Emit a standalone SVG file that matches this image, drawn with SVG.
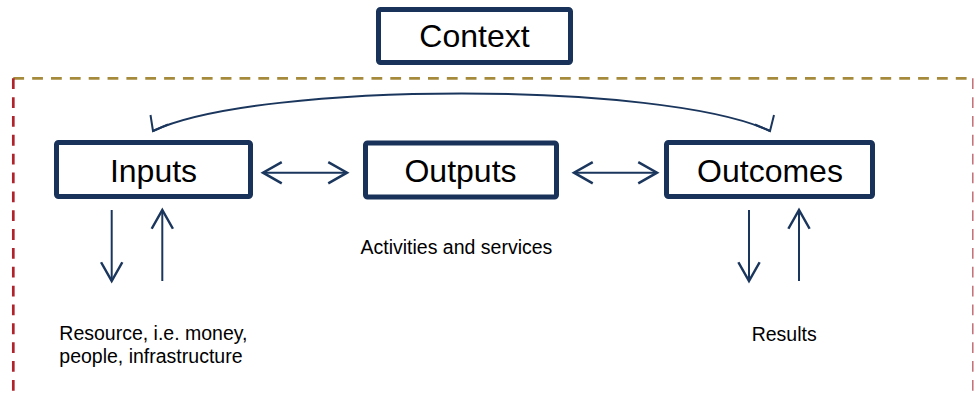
<svg xmlns="http://www.w3.org/2000/svg" width="974" height="393" viewBox="0 0 974 393">
<defs>
<style>
.box{fill:#fff;stroke:#18325A;stroke-width:5}
.big{font-family:"Liberation Sans",Arial,sans-serif;font-size:32px;fill:#000;text-anchor:middle}
.small{font-family:"Liberation Sans",Arial,sans-serif;font-size:19.5px;fill:#000}
.conn{fill:none;stroke:#1B365D;stroke-width:2}
</style>
<marker id="arr" markerUnits="userSpaceOnUse" markerWidth="30" markerHeight="30" viewBox="-20 -12 24 24" refX="0" refY="0" orient="auto-start-reverse">
<path d="M-15,-8.5 L0,0 L-15,8.5" fill="none" stroke="#1B365D" stroke-width="2"/>
</marker>
</defs>
<rect width="974" height="393" fill="#fff"/>
<g id="boundary">
<line x1="13.3" y1="78.3" x2="973" y2="78.3" stroke="#A68A3C" stroke-width="2.7" stroke-dasharray="10.8 8.05"/>
<line x1="13.3" y1="78.3" x2="13.3" y2="393" stroke="#B0232B" stroke-width="2.7" stroke-dasharray="10.8 8.05"/>
<line x1="972.8" y1="78.3" x2="972.8" y2="393" stroke="#C0646E" stroke-width="1.4" stroke-dasharray="10.8 8.05"/>
</g>
<g id="context">
<rect class="box" x="378.5" y="9.5" width="192" height="53" rx="2"/>
<text class="big" x="474.5" y="47">Context</text>
</g>
<g id="inputs">
<rect class="box" x="56.5" y="142.5" width="194" height="54" rx="2"/>
<text class="big" x="153.5" y="181.5">Inputs</text>
</g>
<g id="outputs">
<rect class="box" x="365.5" y="143" width="191" height="54" rx="2"/>
<text class="big" x="460.5" y="182">Outputs</text>
</g>
<g id="outcomes">
<rect class="box" x="666.5" y="142.5" width="206" height="54" rx="2"/>
<text class="big" x="770" y="181.5">Outcomes</text>
</g>
<g id="labels">
<text class="small" x="360.5" y="254.3">Activities and services</text>
<text class="small" x="59.3" y="340">Resource, i.e. money,</text>
<text class="small" x="59.3" y="363">people, infrastructure</text>
<text class="small" x="751.7" y="340.7">Results</text>
</g>
<g id="connectors">
<path class="conn" d="M153,131 C260,81 663,81 770,131"/>
<polyline class="conn" points="150.5,115 153,131 168,124.5"/>
<polyline class="conn" points="774,115 770,131 755,124.5"/>
<line class="conn" x1="263" y1="172.7" x2="347" y2="172.7" marker-start="url(#arr)" marker-end="url(#arr)"/>
<line class="conn" x1="574" y1="172.7" x2="657" y2="172.7" marker-start="url(#arr)" marker-end="url(#arr)"/>
<line class="conn" x1="111.7" y1="210" x2="111.7" y2="281" marker-end="url(#arr)"/>
<line class="conn" x1="162.3" y1="281" x2="162.3" y2="210" marker-end="url(#arr)"/>
<line class="conn" x1="749" y1="210" x2="749" y2="281" marker-end="url(#arr)"/>
<line class="conn" x1="799" y1="281" x2="799" y2="210" marker-end="url(#arr)"/>
</g>
</svg>
